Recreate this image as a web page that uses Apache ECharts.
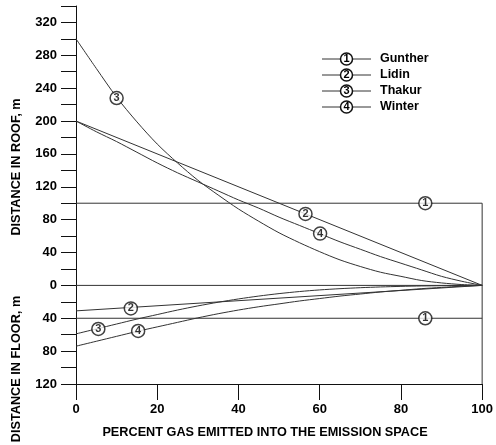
<!DOCTYPE html>
<html>
<head>
<meta charset="utf-8">
<script src="https://cdn.jsdelivr.net/npm/echarts@6/dist/echarts.min.js"></script>
<style>
html,body{margin:0;padding:0;background:#fff;}
#chart{width:496px;height:445px;}
</style>
</head>
<body>
<div id="chart"></div>
<script>
// ---- data ----
const xs = [0,5,10,15,20,25,30,35,40,45,50,55,60,65,70,75,80,85,90,95,100];
const thakurRoof  = [300,264,229,199,172,149,128,110,93,78,64,52,41,31,23,16,11,6,3,1,0];
const winterRoof  = [200,187,175,162,149,137,126,115,104,94,83,73,63,53,44,35,27,19,11,5,0];
const thakurFloor = [-59,-53,-47,-41,-35.5,-30,-25,-20.5,-16.5,-13,-10,-7.5,-5.5,-4,-2.8,-1.9,-1.2,-0.7,-0.4,-0.1,0];
const winterFloor = [-74,-68,-62,-56,-50.5,-45,-39.5,-34.5,-30,-26,-22.5,-19,-16,-13,-10.5,-8,-6,-4,-2.5,-1,0];
const lidinX = [0,100];
const lidinRoof = [200,0];
const lidinFloor = [-31,0];
const guntherX = [0,100];
const guntherRoof = [100,100];
const guntherFloor = [-40,-40];
const zeroLine = [0,0];
const edgeX = [100,100];
const edgeY = [100,-120];
const markerX = [86,56.5,10,60.1,86,13.5,5.5,15.3];
const markerY = [100,87,228,63,-40,-28,-53,-55.5];
const markerLabel = ['1','2','3','4','1','2','3','4'];
const legendNames = ['Gunther','Lidin','Thakur','Winter'];
const legendNums = ['1','2','3','4'];

const LC = '#333';
const FONT = '"Liberation Sans", Arial, sans-serif';
const zip = (a,b) => a.map((v,i)=>[v,b[i]]);

function lineSeries(x, y, smooth){
  return {type:'line', data: zip(x,y), showSymbol:false, symbol:'none', smooth: smooth ? 0.3 : false,
    lineStyle:{color:LC, width:1}, silent:true, z:2};
}

const series = [
  lineSeries(xs, thakurRoof, true),
  lineSeries(xs, winterRoof, true),
  lineSeries(xs, thakurFloor, true),
  lineSeries(xs, winterFloor, true),
  lineSeries(lidinX, lidinRoof),
  lineSeries(lidinX, lidinFloor),
  lineSeries(guntherX, guntherRoof),
  lineSeries(guntherX, guntherFloor),
  lineSeries(guntherX, zeroLine),
  lineSeries(edgeX, edgeY),
  {type:'scatter', data: markerX.map((x,i)=>({value:[x,markerY[i]], label:{formatter: markerLabel[i]}})),
   symbol:'circle', symbolSize:13, z:5,
   itemStyle:{color:'#fff', borderColor:'#111', borderWidth:1.5},
   label:{show:true, position:'inside', color:'#000', fontWeight:'bold', fontSize:11, fontFamily:FONT}}
];

const graphic = [];
legendNames.forEach((n,i)=>{
  const y = 59 + i*16;
  graphic.push({type:'line', shape:{x1:322,y1:y,x2:371,y2:y}, style:{stroke:LC, lineWidth:1}});
  graphic.push({type:'circle', shape:{cx:346.5,cy:y,r:6}, style:{fill:'#fff', stroke:'#111', lineWidth:1.5}});
  graphic.push({type:'text', x:346.5, y:y, style:{text:legendNums[i], fill:'#000', font:'bold 11px '+FONT, textAlign:'center', textVerticalAlign:'middle'}});
  graphic.push({type:'text', x:380, y:y, style:{text:n, fill:'#000', font:'bold 12.5px '+FONT, textAlign:'left', textVerticalAlign:'middle'}});
});
graphic.push({type:'text', x:265, y:432, style:{text:'PERCENT GAS EMITTED INTO THE EMISSION SPACE', fill:'#000', font:'bold 12.7px '+FONT, textAlign:'center', textVerticalAlign:'middle'}});
graphic.push({type:'text', x:16, y:167, rotation:Math.PI/2, style:{text:'DISTANCE IN ROOF, m', fill:'#000', font:'bold 12.7px '+FONT, textAlign:'center', textVerticalAlign:'middle'}});
graphic.push({type:'text', x:16, y:369, rotation:Math.PI/2, style:{text:'DISTANCE IN FLOOR, m', fill:'#000', font:'bold 12.7px '+FONT, textAlign:'center', textVerticalAlign:'middle'}});

const chart = echarts.init(document.getElementById('chart'), null, {renderer:'canvas'});
chart.setOption({
  animation:false,
  backgroundColor:'#fff',
  grid:{left:76, right:13, top:6, bottom:61, containLabel:false},
  xAxis:{type:'value', min:0, max:100, interval:20,
    axisLine:{onZero:false, lineStyle:{color:'#111', width:1}},
    axisTick:{length:16, lineStyle:{color:'#111'}},
    axisLabel:{margin:19, color:'#000', fontWeight:'bold', fontSize:13, fontFamily:FONT},
    splitLine:{show:false}},
  yAxis:{type:'value', min:-120, max:340, interval:20,
    axisLine:{show:true, onZero:false, lineStyle:{color:'#111', width:1}},
    axisTick:{show:true, length:15, lineStyle:{color:'#111'}},
    axisLabel:{margin:19, color:'#000', fontWeight:'bold', fontSize:13, fontFamily:FONT,
      formatter: v => (v % 40 === 0 ? String(Math.abs(v)) : '')},
    splitLine:{show:false}},
  series: series,
  graphic: graphic
});
</script>
</body>
</html>
